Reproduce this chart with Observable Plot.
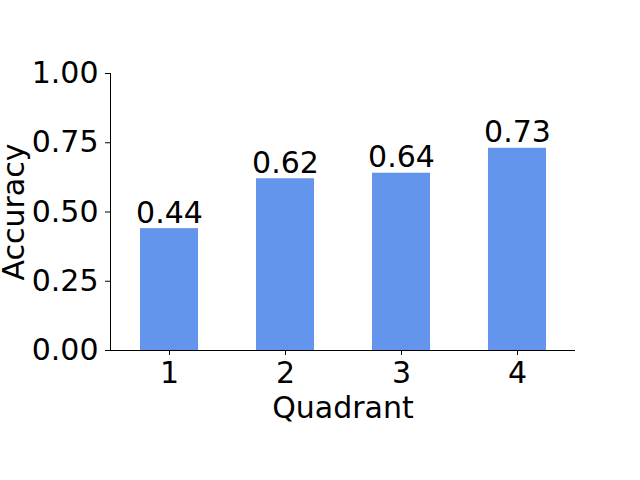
<!DOCTYPE html>
<html>
<head>
<meta charset="utf-8">
<script src="https://cdn.jsdelivr.net/npm/d3@7"></script>
<script src="https://cdn.jsdelivr.net/npm/@observablehq/plot@0.6"></script>
<style>
  html, body { margin: 0; padding: 0; background: #fff; }
</style>
</head>
<body>
<div id="chart"></div>
<script>
const quadrants = ["1", "2", "3", "4"];
const accuracy = [0.44, 0.62, 0.64, 0.73];
const yTicks = [0, 0.25, 0.5, 0.75, 1];
const xLabel = "Quadrant";
const yLabel = "Accuracy";

const data = quadrants.map((q, i) => ({q, acc: accuracy[i]}));

const chart = Plot.plot({
  width: 640,
  height: 480,
  marginLeft: 110,
  marginRight: 65,
  marginTop: 73,
  marginBottom: 130,
  style: {fontFamily: "DejaVu Sans", fontSize: "30px", color: "black", background: "white"},
  x: {domain: quadrants, paddingInner: 0.5, paddingOuter: 0.25},
  y: {domain: [0, 1]},
  marks: [
    Plot.barY(data, {x: "q", y: "acc", fill: "#6495ED"}),
    Plot.text(data, {x: "q", y: "acc", text: d => d.acc.toFixed(2), dy: -6, lineAnchor: "bottom", fontSize: 30, fill: "black"}),
    Plot.axisX({tickSize: 5, tickPadding: 6, fontSize: 30, label: null}),
    Plot.axisY({ticks: yTicks, tickFormat: d => d.toFixed(2), tickSize: 5, tickPadding: 7, fontSize: 30, label: null}),
    Plot.frame({anchor: "left", stroke: "black", strokeWidth: 1}),
    Plot.ruleY([0], {stroke: "black", strokeWidth: 1}),
    Plot.text([xLabel], {frameAnchor: "bottom", dy: 67, lineAnchor: "bottom", textAnchor: "middle", fontSize: 30, fill: "black"}),
    Plot.text([yLabel], {frameAnchor: "left", dx: -87, rotate: -90, lineAnchor: "bottom", textAnchor: "middle", fontSize: 30, fill: "black"})
  ]
});
document.getElementById("chart").appendChild(chart);
</script>
</body>
</html>
